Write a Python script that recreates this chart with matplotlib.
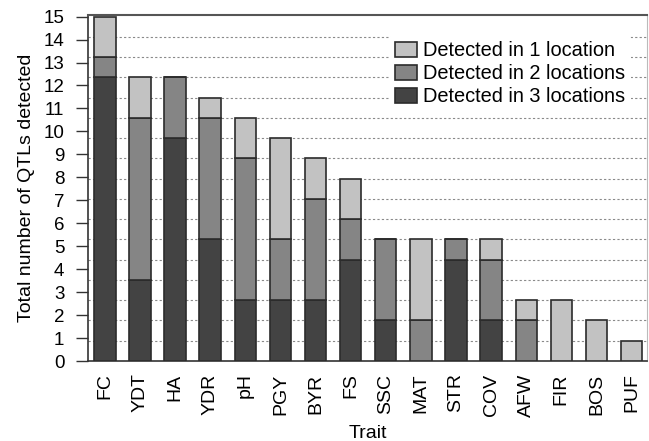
import numpy as np
import matplotlib
matplotlib.use('Agg')
import matplotlib.pyplot as plt

plt.rcParams['font.family'] = ['Liberation Sans', 'DejaVu Sans']

# counts per trait, in grid units as drawn
traits = ['FC', 'YDT', 'HA', 'YDR', 'pH', 'PGY', 'BYR', 'FS', 'SSC', 'MAT',
          'STR', 'COV', 'AFW', 'FIR', 'BOS', 'PUF']
loc3 = [14, 4, 11, 6, 3, 3, 3, 5, 2, 0, 5, 2, 0, 0, 0, 0]
loc2 = [1, 8, 3, 6, 7, 3, 5, 2, 4, 2, 1, 3, 2, 0, 0, 0]
loc1 = [2, 2, 0, 1, 2, 5, 2, 2, 0, 4, 0, 1, 1, 3, 2, 1]
ytick_labels = [str(i) for i in range(16)]

fig = plt.figure(figsize=(6.49, 4.41), dpi=100)
ax = fig.add_axes([88 / 649, 1 - 361 / 441, 559 / 649, 346 / 441])

x = np.arange(len(traits))
l3 = np.array(loc3)
l2 = np.array(loc2)
l1 = np.array(loc1)
w = 0.61
ec = '#2b2b2b'
b3 = ax.bar(x, l3, w, color='#434343', edgecolor=ec, linewidth=1.2, zorder=3,
            label='Detected in 3 locations')
b2 = ax.bar(x, l2, w, bottom=l3, color='#858585', edgecolor=ec, linewidth=1.2,
            zorder=3, label='Detected in 2 locations')
b1 = ax.bar(x, l1, w, bottom=l3 + l2, color='#c2c2c2', edgecolor=ec,
            linewidth=1.2, zorder=3, label='Detected in 1 location')

ax.set_xlim(-0.48, 15.44)
ax.set_ylim(0, 17.08)

top = 17
ax.set_yticks(np.linspace(0, top, 16))
ax.set_yticklabels(ytick_labels, fontsize=13.5)
ax.set_yticks(np.arange(1, top + 1), minor=True)
ax.tick_params(axis='y', which='major', length=9, width=1.0, color='#333333',
               pad=8)
ax.tick_params(axis='y', which='minor', length=0)
ax.yaxis.grid(True, which='minor', linestyle=(0, (2, 2)), color='#8a8a8a',
              linewidth=0.8, zorder=0)

ax.set_xticks(x)
ax.set_xticklabels(traits, rotation=90, fontsize=14)
ax.tick_params(axis='x', length=0, pad=9)

ax.set_ylabel('Total number of QTLs detected', fontsize=14)
ax.yaxis.set_label_coords(-0.095, 0.5)
ax.set_xlabel('Trait', fontsize=14, labelpad=6)

for s in ['left', 'bottom']:
    ax.spines[s].set_color('#333333')
    ax.spines[s].set_linewidth(1.2)
ax.spines['top'].set_color('#555555')
ax.spines['top'].set_linewidth(1.5)
ax.spines['right'].set_color('#bbbbbb')
ax.spines['right'].set_linewidth(0.8)

leg = ax.legend(handles=[b1, b2, b3], loc='upper right',
                bbox_to_anchor=(0.99, 0.97), fontsize=14.4, frameon=True,
                framealpha=1, edgecolor='none', facecolor='white',
                handlelength=1.1, handleheight=0.75, handletextpad=0.3,
                labelspacing=0.2, borderpad=0.3)
leg.set_zorder(5)

fig.savefig('out.png', dpi=100)
